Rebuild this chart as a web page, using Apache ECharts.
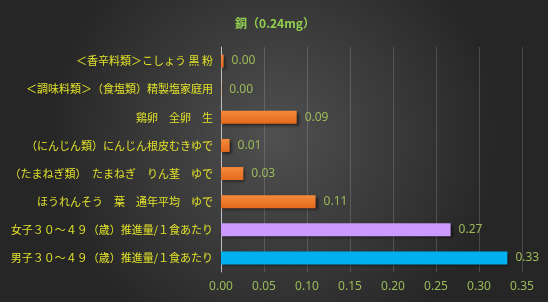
<!DOCTYPE html>
<html><head><meta charset="utf-8">
<script src="https://cdn.jsdelivr.net/npm/echarts@6/dist/echarts.min.js"></script>
<style>html,body{margin:0;padding:0;}#c{width:548px;height:302px;}</style>
</head><body><div id="c"></div>
<script>
const titleText = '銅（0.24mg）';
const categories = [
  '＜香辛料類＞こしょう 黒 粉',
  '＜調味料類＞（食塩類）精製塩家庭用',
  '鶏卵　全卵　生',
  '（にんじん類）にんじん根皮むきゆで',
  '（たまねぎ類）　たまねぎ　りん茎　ゆで',
  'ほうれんそう　葉　通年平均　ゆで',
  '女子３０～４９（歳）推進量/１食あたり',
  '男子３０～４９（歳）推進量/１食あたり'
];
const values = [0.003, 0.0003, 0.088, 0.010, 0.026, 0.110, 0.267, 0.333];
const valueLabels = ['0.00', '0.00', '0.09', '0.01', '0.03', '0.11', '0.27', '0.33'];
const barKinds = ['food', 'food', 'food', 'food', 'food', 'food', 'female', 'male'];

const orange = new echarts.graphic.LinearGradient(0, 0, 0, 1, [
  {offset: 0, color: '#f58a3c'}, {offset: 1, color: '#e4691c'}]);
const colorOf = {food: orange, female: '#cc99ff', male: '#00b0f0'};

const chart = echarts.init(document.getElementById('c'));
chart.setOption({
  backgroundColor: new echarts.graphic.RadialGradient(0.5, 0.45, 0.75, [
    {offset: 0, color: '#505050'}, {offset: 1, color: '#262626'}]),
  title: {
    text: titleText, left: 270, top: 12, textAlign: 'center',
    textStyle: {color: '#92d050', fontSize: 12, fontWeight: 'bold', fontFamily: 'Noto Sans CJK JP'}
  },
  grid: {left: 221, right: 26, top: 47, bottom: 30, containLabel: false},
  xAxis: {
    type: 'value', min: 0, max: 0.35, interval: 0.05,
    axisLine: {show: false}, axisTick: {show: false},
    splitLine: {lineStyle: {color: 'rgba(200,200,200,0.22)', width: 1}},
    axisLabel: {color: '#9bbb59', fontSize: 12, margin: 9, fontFamily: 'Noto Sans',
      formatter: v => v.toFixed(2)}
  },
  yAxis: {
    type: 'category', data: categories, inverse: true,
    axisLine: {show: true, lineStyle: {color: '#bfbfbf', width: 1}},
    axisTick: {show: false},
    axisLabel: {color: '#e0e02a', fontSize: 11, margin: 8, fontFamily: 'Noto Sans CJK JP'}
  },
  series: [{
    type: 'bar', barWidth: 13,
    data: values.map((v, i) => ({value: v, itemStyle: {color: colorOf[barKinds[i]]}})),
    itemStyle: {shadowColor: 'rgba(0,0,0,0.55)', shadowBlur: 3, shadowOffsetX: 2, shadowOffsetY: 2},
    label: {show: true, position: 'right', distance: 8, color: '#9bbb59', fontSize: 12,
      fontFamily: 'Noto Sans', formatter: p => valueLabels[p.dataIndex]},
    animation: false
  }],
  animation: false
});
</script></body></html>
